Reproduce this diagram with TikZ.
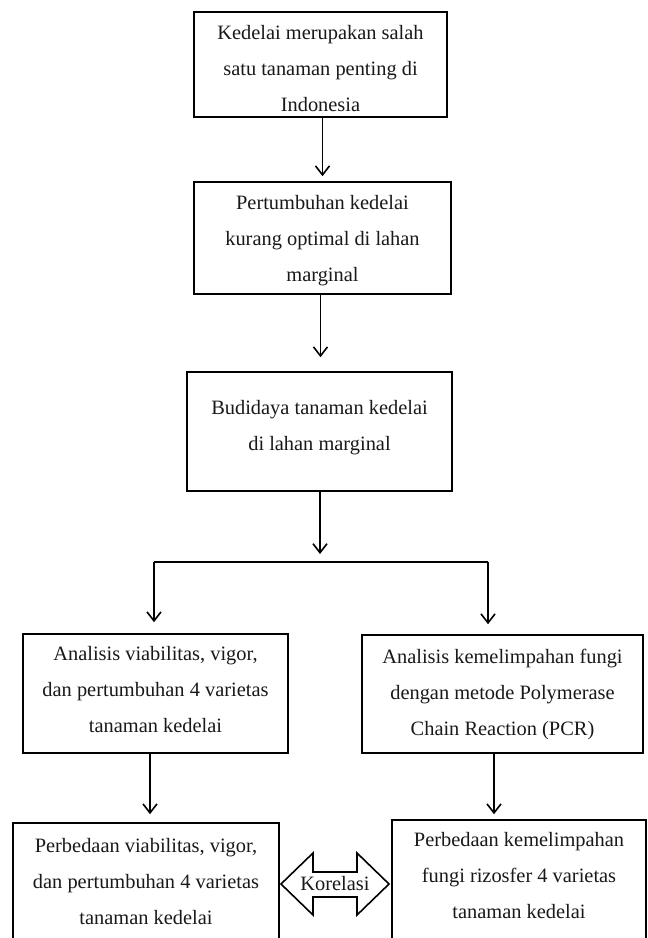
\documentclass[tikz,border=0pt]{standalone}
\usepackage{fontspec}
\setmainfont{Liberation Serif}
\usetikzlibrary{arrows.meta,calc}
\begin{document}
\begin{tikzpicture}[x=1pt,y=-1pt,
  boxstyle/.style={draw, line width=1.6pt, align=center, inner sep=0pt,
    font={\fontsize{20.4pt}{36pt}\selectfont}, text=black!90},
  arr/.style={line width=1.6pt, -{Straight Barb[length=9pt,width=14pt,line width=1.6pt]}},
  conn/.style={line width=1.6pt},
  lbl/.style={font={\fontsize{20.4pt}{36pt}\selectfont}, text=black!90, inner sep=0pt}]
\path[use as bounding box, clip] (0,0) rectangle (648,938);
\fill[white] (0,0) rectangle (648,938);

\node[boxstyle, minimum width=253pt, minimum height=105pt] (b1) at (320.5,64.5)
  {\rule{0pt}{22pt}Kedelai merupakan salah\\satu tanaman penting di\\Indonesia};
\node[boxstyle, minimum width=257pt, minimum height=112pt] (b2) at (322.5,238)
  {\rule{0pt}{20pt}Pertumbuhan kedelai\\kurang optimal di lahan\\marginal};
\node[boxstyle, minimum width=265pt, minimum height=119pt] (b3) at (319.5,431.5)
  {Budidaya tanaman kedelai\\di lahan marginal\rule[-13pt]{0pt}{1pt}};
\node[boxstyle, minimum width=265pt, minimum height=119pt] (A) at (155.5,693.5)
  {Analisis viabilitas, vigor,\\dan pertumbuhan 4 varietas\\tanaman kedelai\rule[-8pt]{0pt}{1pt}};
\node[boxstyle, minimum width=281pt, minimum height=118pt] (B) at (502.5,694)
  {Analisis kemelimpahan fungi\\dengan metode Polymerase\\Chain Reaction (PCR)};
\node[boxstyle, minimum width=266pt, minimum height=118pt] (C) at (146,882)
  {Perbedaan viabilitas, vigor,\\dan pertumbuhan 4 varietas\\tanaman kedelai};
\node[boxstyle, minimum width=254pt, minimum height=124pt] (D) at (519,882)
  {Perbedaan kemelimpahan\\fungi rizosfer 4 varietas\\tanaman kedelai\rule[-14pt]{0pt}{1pt}};

% vertical connectors
\draw[arr, shorten >=5pt] ([xshift=2pt]b1.south) -- ([xshift=2pt]b1.south |- b2.north);
\draw[arr, shorten >=14pt] ([xshift=-2pt]b2.south) -- ([xshift=-2pt]b2.south |- b3.north);

% split
\coordinate (split) at (320,562);
\coordinate (sl) at (154,562);
\coordinate (sr) at (488,562);
\draw[arr, shorten >=8pt] ([xshift=0.5pt]b3.south) -- (split);
\draw[conn] (sl) -- (sr);
\draw[arr, shorten >=11pt] (sl) -- (sl |- A.north);
\draw[arr, shorten >=10pt] (sr) -- (sr |- B.north);

\draw[arr, shorten >=8pt] ([xshift=-5.5pt]A.south) -- ([xshift=-5.5pt]A.south |- C.north);
\draw[arr, shorten >=5pt] ([xshift=-8.5pt]B.south) -- ([xshift=-8.5pt]B.south |- D.north);

% Korelasi double arrow
\node[lbl] (kor) at (335,884) {Korelasi};
\draw[line width=1.6pt, line join=miter]
  ([shift={(-54,0)}]kor.center) -- ([shift={(-22,-31)}]kor.center)
  -- ([shift={(-22,-12)}]kor.center) -- ([shift={(22,-12)}]kor.center)
  -- ([shift={(22,-31)}]kor.center) -- ([shift={(54,0)}]kor.center)
  -- ([shift={(22,31)}]kor.center) -- ([shift={(22,13)}]kor.center)
  -- ([shift={(-22,13)}]kor.center) -- ([shift={(-22,31)}]kor.center) -- cycle;
\end{tikzpicture}
\end{document}
